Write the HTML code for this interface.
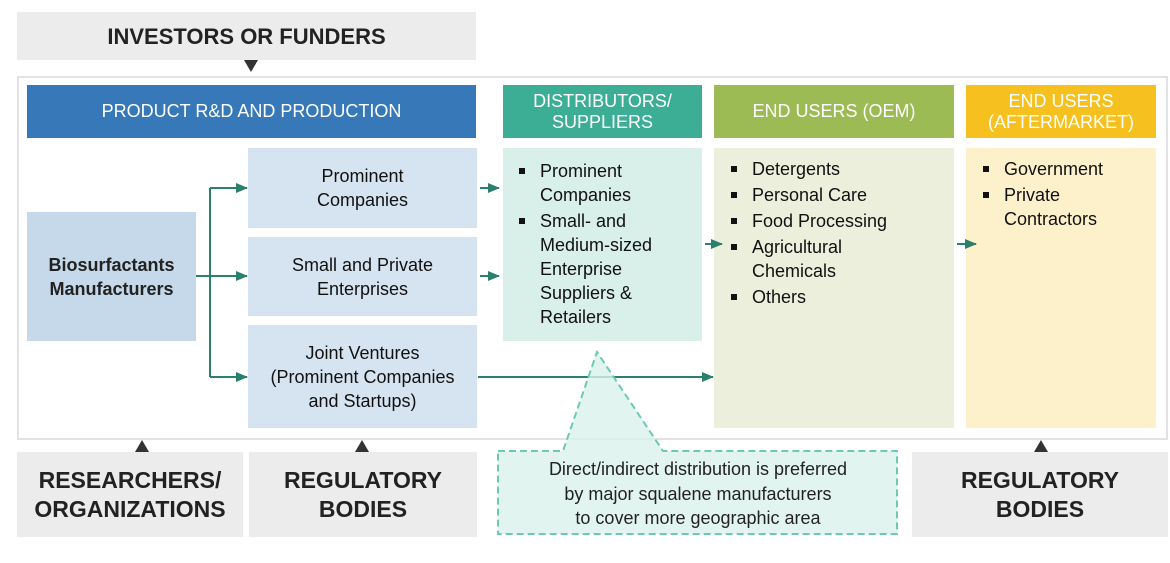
<!DOCTYPE html>
<html><head><style>
body{margin:0;width:1170px;height:563px;background:#fff;font-family:"Liberation Sans",Arial,sans-serif;position:relative;overflow:hidden}
.b{position:absolute;display:flex;align-items:center;justify-content:center;text-align:center;box-sizing:border-box}
.h{color:#fff;font-size:18px;line-height:21px}
.g{background:#ececec;color:#222;font-weight:bold;font-size:23px;line-height:29px}
.lt{background:#d6e4f1;color:#111;font-size:18px;line-height:24px}
ul{margin:0;padding:0 0 0 0;list-style:none;position:absolute;font-size:18px;line-height:24px;color:#111}
li{position:relative;padding-left:25px;margin-bottom:2px}
li:before{content:"";position:absolute;left:4px;top:9px;width:6px;height:6px;background:#111}
</style></head><body>
<div class="b g" style="left:17px;top:12px;width:459px;height:48px;font-size:22px">INVESTORS OR FUNDERS</div>
<div style="position:absolute;left:17px;top:76px;width:1151px;height:364px;border:2px solid #e2e2e2;box-sizing:border-box"></div>
<div class="b h" style="left:27px;top:85px;width:449px;height:53px;background:#3778b8">PRODUCT R&amp;D AND PRODUCTION</div>
<div class="b h" style="left:503px;top:85px;width:199px;height:53px;background:#3cae96">DISTRIBUTORS/<br>SUPPLIERS</div>
<div class="b h" style="left:714px;top:85px;width:240px;height:53px;background:#9dbb55">END USERS (OEM)</div>
<div class="b h" style="left:966px;top:85px;width:190px;height:53px;background:#f6c11f">END USERS<br>(AFTERMARKET)</div>
<div class="b" style="left:27px;top:212px;width:169px;height:129px;background:#c5d9ea;font-weight:bold;font-size:18px;line-height:24px;color:#222">Biosurfactants<br>Manufacturers</div>
<div class="b lt" style="left:248px;top:148px;width:229px;height:80px">Prominent<br>Companies</div>
<div class="b lt" style="left:248px;top:237px;width:229px;height:79px">Small and Private<br>Enterprises</div>
<div class="b lt" style="left:248px;top:325px;width:229px;height:103px">Joint Ventures<br>(Prominent Companies<br>and Startups)</div>
<div style="position:absolute;left:503px;top:148px;width:199px;height:193px;background:#d9efe9"></div>
<div style="position:absolute;left:714px;top:148px;width:240px;height:280px;background:#ebefdc"></div>
<div style="position:absolute;left:966px;top:148px;width:190px;height:280px;background:#fdf1cc"></div>
<ul style="left:515px;top:159px"><li>Prominent<br>Companies</li><li>Small- and<br>Medium-sized<br>Enterprise<br>Suppliers &amp;<br>Retailers</li></ul>
<ul style="left:727px;top:157px"><li>Detergents</li><li>Personal Care</li><li>Food Processing</li><li>Agricultural<br>Chemicals</li><li>Others</li></ul>
<ul style="left:979px;top:157px"><li>Government</li><li>Private<br>Contractors</li></ul>
<div class="b g" style="left:17px;top:452px;width:226px;height:85px">RESEARCHERS/<br>ORGANIZATIONS</div>
<div class="b g" style="left:249px;top:452px;width:228px;height:85px">REGULATORY<br>BODIES</div>
<div class="b g" style="left:912px;top:452px;width:256px;height:85px">REGULATORY<br>BODIES</div>
<svg width="1170" height="563" style="position:absolute;left:0;top:0">
<defs><marker id="a" markerWidth="12" markerHeight="12" refX="11" refY="6" orient="auto" markerUnits="userSpaceOnUse"><path d="M0,1L12,6L0,11z" fill="#2b7f6d"/></marker></defs>
<g stroke="#2b7f6d" stroke-width="2" fill="none">
<path d="M196,276H210"/><path d="M210,188V377"/>
<path d="M210,188H247" marker-end="url(#a)"/><path d="M210,276H247" marker-end="url(#a)"/><path d="M210,377H247" marker-end="url(#a)"/>
<path d="M480,188H499" marker-end="url(#a)"/><path d="M480,276H499" marker-end="url(#a)"/>
<path d="M478,377H713" marker-end="url(#a)"/>
<path d="M705,244H722" marker-end="url(#a)"/><path d="M957,244H976" marker-end="url(#a)"/>
</g>
<path d="M498,451H563L597,352L663,451H897V534H498Z" fill="#d9f1eb" fill-opacity="0.8" stroke="#6ccab2" stroke-width="2" stroke-dasharray="7,4"/>
<text x="698" y="475" text-anchor="middle" font-size="18" fill="#222" font-family="Liberation Sans,sans-serif">Direct/indirect distribution is preferred</text>
<text x="698" y="500" text-anchor="middle" font-size="18" fill="#222" font-family="Liberation Sans,sans-serif">by major squalene manufacturers</text>
<text x="698" y="524" text-anchor="middle" font-size="18" fill="#222" font-family="Liberation Sans,sans-serif">to cover more geographic area</text>
<g fill="#333"><path d="M244,60H258L251,72Z"/><path d="M135,452H149L142,440Z"/><path d="M355,452H369L362,440Z"/><path d="M1034,452H1048L1041,440Z"/></g>
</svg>
</body></html>
